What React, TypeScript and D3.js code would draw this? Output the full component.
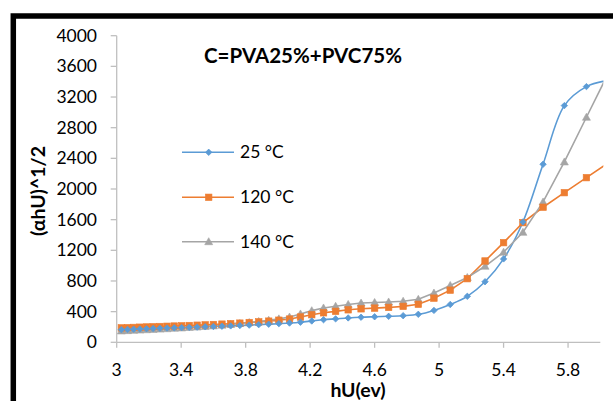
import React from "react";
import * as d3 from "d3";

const energies = [3.029, 3.067, 3.105, 3.144, 3.185, 3.226, 3.268, 3.312, 3.357, 3.403, 3.45, 3.499, 3.549, 3.6, 3.653, 3.707, 3.764, 3.822, 3.881, 3.943, 4.006, 4.072, 4.14, 4.21, 4.283, 4.358, 4.436, 4.516, 4.6, 4.687, 4.777, 4.871, 4.968, 5.069, 5.175, 5.285, 5.4, 5.52, 5.645, 5.777, 5.914, 6.059];

const series25 = [165, 168, 171, 174, 177, 180, 183, 186, 189, 192, 195, 198, 202, 206, 210, 214, 219, 224, 230, 236, 243, 251, 262, 278, 295, 306, 318, 327, 333, 339, 347, 365, 416, 493, 600, 790, 1088, 1570, 2323, 3088, 3336, 3420];
const series120 = [188, 191, 194, 197, 200, 203, 206, 209, 212, 215, 219, 223, 227, 232, 237, 243, 250, 258, 266, 276, 288, 303, 330, 360, 385, 404, 424, 437, 446, 455, 469, 496, 576, 680, 830, 1061, 1300, 1561, 1762, 1952, 2148, 2355];
const series140 = [148, 152, 156, 160, 164, 168, 172, 177, 182, 187, 193, 199, 206, 214, 223, 233, 245, 258, 272, 288, 306, 330, 370, 413, 448, 470, 494, 512, 520, 526, 536, 561, 643, 742, 846, 992, 1176, 1435, 1831, 2353, 2936, 3550];

const seriesNames = ["25 °C", "120 °C", "140 °C"];
const seriesColors = ["#5B9BD5", "#ED7D31", "#A5A5A5"];
const xTicks = [3, 3.4, 3.8, 4.2, 4.6, 5, 5.4, 5.8];
const yTicks = [0, 400, 800, 1200, 1600, 2000, 2400, 2800, 3200, 3600, 4000];

const title = "C=PVA25%+PVC75%";
const xTitle = "hU(ev)";
const yTitle = "(αhU)^1/2";

const FONT = "Lato, 'Open Sans', sans-serif";

function Marker({ kind, x, y, color }: { kind: number; x: number; y: number; color: string }) {
  if (kind === 0) {
    const r = 3.2;
    return <path d={`M${x},${y - r}L${x + r},${y}L${x},${y + r}L${x - r},${y}Z`} fill={color} stroke={color} strokeWidth={0.8} />;
  }
  if (kind === 1) {
    const s = 6.5;
    return <rect x={x - s / 2} y={y - s / 2} width={s} height={s} fill={color} stroke={color} strokeWidth={0.6} />;
  }
  const r = 4;
  return <path d={`M${x},${y - r}L${x + r},${y + r * 0.75}L${x - r},${y + r * 0.75}Z`} fill={color} stroke={color} strokeWidth={0.6} />;
}

export default function App() {
  const W = 613;
  const H = 401;
  const x = d3.scaleLinear().domain([3, 6]).range([116.7, 600.3]);
  const y = d3.scaleLinear().domain([0, 4000]).range([342.3, 35.7]);

  const allSeries = [series25, series120, series140];
  const curves = [d3.curveCatmullRom.alpha(0.5), d3.curveLinear, d3.curveLinear];

  const legendY = [152.3, 197.3, 241.7];

  return (
    <svg width={W} height={H} style={{ position: "absolute", left: 0, top: 0, background: "#fff" }} fontFamily={FONT}>
      <defs>
        <clipPath id="plotClip">
          <rect x={x(3) - 5} y={20} width={x(6) - x(3) + 8} height={340} />
        </clipPath>
      </defs>
      <rect x={0} y={0} width={W} height={H} fill="#fff" />
      {/* outer frame */}
      <rect x={13.3} y={16} width={W + 50} height={H + 50} fill="none" stroke="#000" strokeWidth={5.5} />

      {/* axes */}
      <line x1={x(3)} x2={x(6)} y1={y(0)} y2={y(0)} stroke="#BFBFBF" strokeWidth={1.3} />
      <line x1={x(3)} x2={x(3)} y1={y(0)} y2={y(4000)} stroke="#BFBFBF" strokeWidth={1.3} />
      {yTicks.map((t) => (
        <g key={"y" + t}>
          <line x1={x(3) - 6} x2={x(3)} y1={y(t)} y2={y(t)} stroke="#BFBFBF" strokeWidth={1.3} />
          <text x={97} y={y(t) + 6} textAnchor="end" fontSize={17.5} fill="#000">
            {t}
          </text>
        </g>
      ))}
      {xTicks.map((t) => (
        <g key={"x" + t}>
          <line x1={x(t)} x2={x(t)} y1={y(0)} y2={y(0) + 5.5} stroke="#BFBFBF" strokeWidth={1.3} />
          <text x={x(t)} y={375.7} textAnchor="middle" fontSize={17.5} fill="#000">
            {t}
          </text>
        </g>
      ))}

      {/* series */}
      <g clipPath="url(#plotClip)">
        {allSeries.map((vals, si) => {
          const line = d3
            .line<number>()
            .x((_, i) => x(energies[i]))
            .y((v) => y(v))
            .curve(curves[si]);
          return <path key={"l" + si} d={line(vals) || ""} fill="none" stroke={seriesColors[si]} strokeWidth={1.6} />;
        })}
        {[2, 1, 0].map((si) =>
          allSeries[si].map((v, i) => (
            <Marker key={"m" + si + "-" + i} kind={si} x={x(energies[i])} y={y(v)} color={seriesColors[si]} />
          ))
        )}
      </g>

      {/* title */}
      <text x={303} y={63} textAnchor="middle" fontSize={20.5} fontWeight="bold" fill="#000">
        {title}
      </text>

      {/* legend */}
      {seriesNames.map((name, i) => (
        <g key={"lg" + i}>
          <line x1={182} x2={234} y1={legendY[i]} y2={legendY[i]} stroke={seriesColors[i]} strokeWidth={1.6} />
          <Marker kind={i} x={208.7} y={legendY[i]} color={seriesColors[i]} />
          <text x={240} y={legendY[i] + 6} fontSize={17.5} fill="#000">
            {name}
          </text>
        </g>
      ))}

      {/* axis titles */}
      <text x={358} y={397} textAnchor="middle" fontSize={19.5} fontWeight="bold" fill="#000">
        {xTitle}
      </text>
      <text transform="translate(45,191) rotate(-90)" textAnchor="middle" fontSize={19.5} fontWeight="bold" fill="#000">
        {yTitle}
      </text>
    </svg>
  );
}
